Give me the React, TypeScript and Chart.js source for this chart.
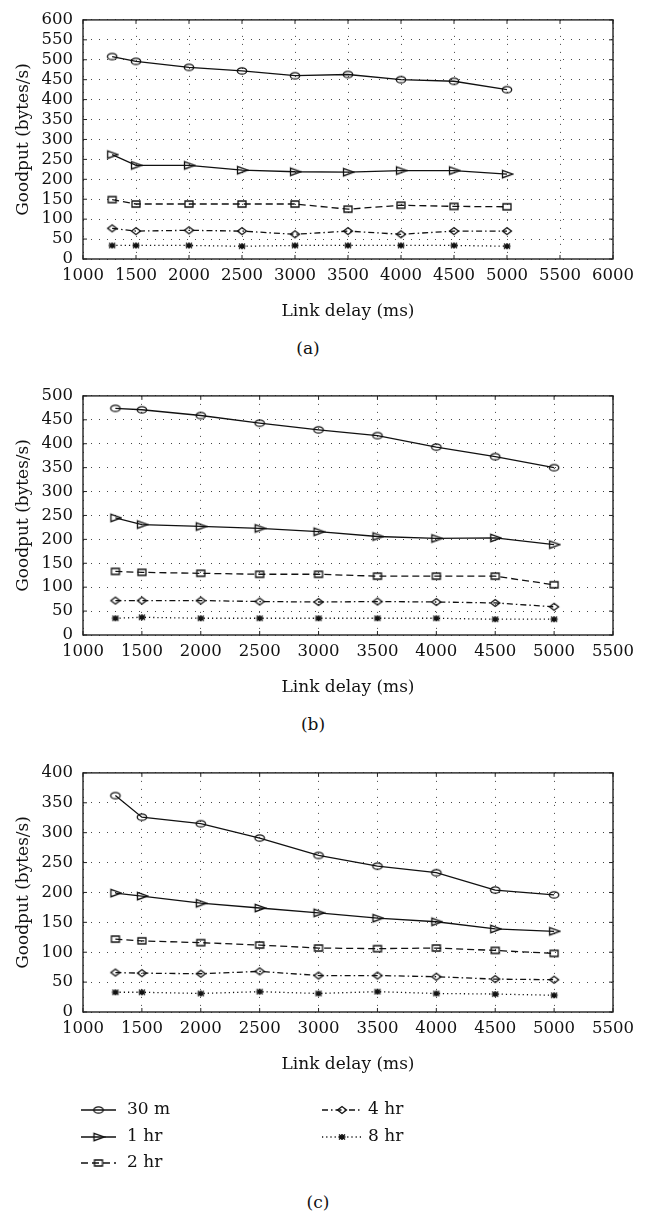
import React, { useEffect, useRef } from 'react';
import { Chart, registerables } from 'chart.js';

Chart.register(...registerables);

// ---------- data ----------
const LINK_DELAY = [1275, 1500, 2000, 2500, 3000, 3500, 4000, 4500, 5000];
const SERIES_LABELS = ['30 m', '1 hr', '2 hr', '4 hr', '8 hr'];

const A_30M = [508, 496, 481, 472, 460, 463, 450, 446, 425];
const A_1HR = [262, 235, 235, 223, 219, 218, 222, 222, 213];
const A_2HR = [149, 138, 138, 138, 138, 125, 135, 132, 131];
const A_4HR = [77, 70, 72, 70, 62, 70, 62, 70, 70];
const A_8HR = [34, 34, 34, 32, 34, 34, 34, 34, 32];

const B_30M = [474, 471, 459, 443, 429, 417, 393, 373, 350];
const B_1HR = [245, 231, 227, 223, 216, 206, 202, 203, 189];
const B_2HR = [133, 131, 129, 127, 127, 123, 123, 123, 105];
const B_4HR = [72, 72, 72, 70, 69, 70, 69, 67, 59];
const B_8HR = [35, 37, 35, 35, 35, 35, 35, 33, 33];

const C_30M = [362, 326, 315, 291, 262, 244, 233, 204, 196];
const C_1HR = [199, 194, 182, 174, 166, 157, 151, 139, 135];
const C_2HR = [122, 119, 116, 112, 107, 106, 107, 103, 98];
const C_4HR = [66, 65, 64, 68, 61, 61, 59, 55, 54];
const C_8HR = [33, 33, 31, 34, 31, 34, 31, 30, 28];

const X_TITLE = 'Link delay (ms)';
const Y_TITLE = 'Goodput (bytes/s)';
const X_MIN = 1000;
const X_STEP = 500;
const Y_STEP = 50;

// ---------- styles ----------
const FONT = '"DejaVu Serif", "Liberation Serif", serif';
const INK = '#111';
const DASHES: number[][] = [[], [], [7, 4], [6, 3, 1.5, 3], [1.2, 3]];
const MARKERS = ['ellipse', 'tri', 'rect', 'diamond', 'star'];

const markerCache: Record<string, HTMLCanvasElement> = {};
function marker(kind: string): HTMLCanvasElement {
  if (markerCache[kind]) return markerCache[kind];
  const c = document.createElement('canvas');
  c.width = 14;
  c.height = 12;
  const g = c.getContext('2d')!;
  g.strokeStyle = INK;
  g.fillStyle = INK;
  g.lineWidth = 1.3;
  const cx = 7, cy = 6;
  g.beginPath();
  if (kind === 'ellipse') {
    g.ellipse(cx, cy, 4.7, 3.2, 0, 0, Math.PI * 2);
    g.stroke();
  } else if (kind === 'tri') {
    g.moveTo(cx - 4.5, cy - 3.7);
    g.lineTo(cx + 5.5, cy);
    g.lineTo(cx - 4.5, cy + 3.7);
    g.closePath();
    g.stroke();
  } else if (kind === 'rect') {
    g.rect(cx - 4, cy - 3, 8, 6);
    g.stroke();
  } else if (kind === 'diamond') {
    g.moveTo(cx - 4.5, cy);
    g.lineTo(cx, cy - 3.4);
    g.lineTo(cx + 4.5, cy);
    g.lineTo(cx, cy + 3.4);
    g.closePath();
    g.stroke();
  } else {
    g.lineWidth = 1.6;
    g.moveTo(cx - 3.5, cy); g.lineTo(cx + 3.5, cy);
    g.moveTo(cx - 3, cy - 2.5); g.lineTo(cx + 3, cy + 2.5);
    g.moveTo(cx - 3, cy + 2.5); g.lineTo(cx + 3, cy - 2.5);
    g.moveTo(cx, cy - 3); g.lineTo(cx, cy + 3);
    g.stroke();
  }
  markerCache[kind] = c;
  return c;
}

const framePlugin = {
  id: 'frameTicks',
  afterDraw(chart: any) {
    const { ctx, chartArea } = chart;
    const { left, right, top, bottom } = chartArea;
    const xs = chart.scales.x;
    const ys = chart.scales.y;
    ctx.save();
    ctx.setLineDash([]);
    ctx.strokeStyle = '#222';
    ctx.lineWidth = 1;
    const L = 4;
    const seg = (x1: number, y1: number, x2: number, y2: number) => {
      ctx.beginPath();
      ctx.moveTo(x1, y1);
      ctx.lineTo(x2, y2);
      ctx.stroke();
    };
    xs.ticks.forEach((t: any) => {
      const p = xs.getPixelForValue(t.value);
      seg(p, bottom, p, bottom - L);
      seg(p, top, p, top + L);
    });
    ys.ticks.forEach((t: any) => {
      const p = ys.getPixelForValue(t.value);
      seg(left, p, left + L, p);
      seg(right, p, right - L, p);
    });
    ctx.lineWidth = 1.4;
    ctx.strokeRect(left, top, right - left, bottom - top);
    ctx.restore();
  },
};

const CANVAS_W = 646;
const CANVAS_H = 330;
const TICK_SIZE = 16.5;
const TITLE_SIZE = 17;

type PanelProps = {
  series: number[][];
  xMax: number;
  yMax: number;
  top: number;
};

function Panel({ series, xMax, yMax, top }: PanelProps) {
  const ref = useRef<HTMLCanvasElement>(null);
  useEffect(() => {
    if (!ref.current) return;
    const datasets = series.map((vals, i) => ({
      label: SERIES_LABELS[i],
      data: LINK_DELAY.map((x, j) => ({ x, y: vals[j] })),
      borderColor: INK,
      backgroundColor: 'transparent',
      borderWidth: 1.3,
      borderDash: DASHES[i],
      pointStyle: marker(MARKERS[i]) as any,
      pointRadius: 4,
      tension: 0,
      fill: false,
    }));
    const chart = new Chart(ref.current, {
      type: 'line',
      data: { datasets },
      plugins: [framePlugin],
      options: {
        animation: false,
        responsive: false,
        devicePixelRatio: 1,
        layout: { padding: { top: 9, right: 33, left: 0, bottom: 0 } },
        plugins: { legend: { display: false }, tooltip: { enabled: false } },
        scales: {
          x: {
            type: 'linear',
            min: X_MIN,
            max: xMax,
            afterFit: (s: any) => { s.height = 71; },
            ticks: {
              stepSize: X_STEP,
              autoSkip: false,
              maxRotation: 0,
              padding: 7,
              color: INK,
              font: { family: FONT, size: TICK_SIZE },
              callback: (v: any) => String(v),
            },
            grid: { color: '#444', lineWidth: 1, drawTicks: false },
            border: { display: false, dash: [1, 7] },
            title: {
              display: true,
              text: X_TITLE,
              color: INK,
              font: { family: FONT, size: TITLE_SIZE },
              padding: { top: 0, bottom: 8 },
            },
          },
          y: {
            type: 'linear',
            min: 0,
            max: yMax,
            afterFit: (s: any) => { s.width = 83; },
            ticks: {
              stepSize: Y_STEP,
              autoSkip: false,
              padding: 10,
              color: INK,
              font: { family: FONT, size: TICK_SIZE },
              callback: (v: any) => String(v),
            },
            grid: { color: '#444', lineWidth: 1, drawTicks: false },
            border: { display: false, dash: [1, 7] },
            title: {
              display: true,
              text: Y_TITLE,
              color: INK,
              font: { family: FONT, size: TITLE_SIZE },
              padding: { top: 13, bottom: 0 },
            },
          },
        },
      } as any,
    });
    return () => chart.destroy();
  }, []);
  return (
    <canvas
      ref={ref}
      width={CANVAS_W}
      height={CANVAS_H}
      style={{ position: 'absolute', left: 0, top, width: CANVAS_W, height: CANVAS_H, display: 'block' }}
    />
  );
}

const LEGEND_TOP = 1090;
const LEGEND_COLS = [
  { x1: 81, x2: 116, tx: 127 },
  { x1: 322, x2: 362, tx: 368 },
];
const LEGEND_ROWS = [20, 47, 73];

function Legend() {
  const ref = useRef<HTMLCanvasElement>(null);
  useEffect(() => {
    const c = ref.current;
    if (!c) return;
    const g = c.getContext('2d')!;
    g.clearRect(0, 0, c.width, c.height);
    SERIES_LABELS.forEach((label, i) => {
      const col = LEGEND_COLS[i < 3 ? 0 : 1];
      const y = LEGEND_ROWS[i < 3 ? i : i - 3];
      g.save();
      g.strokeStyle = INK;
      g.lineWidth = 1.3;
      g.setLineDash(DASHES[i]);
      g.beginPath();
      g.moveTo(col.x1, y);
      g.lineTo(col.x2, y);
      g.stroke();
      g.restore();
      const m = marker(MARKERS[i]);
      const mx = (col.x1 + col.x2) / 2;
      g.drawImage(m, mx - m.width / 2, y - m.height / 2);
      g.fillStyle = INK;
      g.font = `17px ${FONT}`;
      g.textBaseline = 'middle';
      g.textAlign = 'left';
      g.fillText(label, col.tx, y);
    });
  }, []);
  return (
    <canvas
      ref={ref}
      width={CANVAS_W}
      height={95}
      style={{ position: 'absolute', left: 0, top: LEGEND_TOP, width: CANVAS_W, height: 95, display: 'block' }}
    />
  );
}

function Caption({ text, cx, cy }: { text: string; cx: number; cy: number }) {
  return (
    <div
      style={{
        position: 'absolute',
        left: cx - 40,
        top: cy - 11,
        width: 80,
        height: 22,
        lineHeight: '22px',
        textAlign: 'center',
        fontFamily: FONT,
        fontSize: 17,
        color: INK,
      }}
    >
      {text}
    </div>
  );
}

export default function App() {
  return (
    <div style={{ position: 'absolute', left: 0, top: 0, width: 646, height: 1212, background: '#fff', overflow: 'hidden' }}>
      <Panel series={[A_30M, A_1HR, A_2HR, A_4HR, A_8HR]} xMax={6000} yMax={600} top={0} />
      <Caption text="(a)" cx={308} cy={348} />
      <Panel series={[B_30M, B_1HR, B_2HR, B_4HR, B_8HR]} xMax={5500} yMax={500} top={376} />
      <Caption text="(b)" cx={313} cy={724} />
      <Panel series={[C_30M, C_1HR, C_2HR, C_4HR, C_8HR]} xMax={5500} yMax={400} top={753} />
      <Legend />
      <Caption text="(c)" cx={318} cy={1202} />
    </div>
  );
}
